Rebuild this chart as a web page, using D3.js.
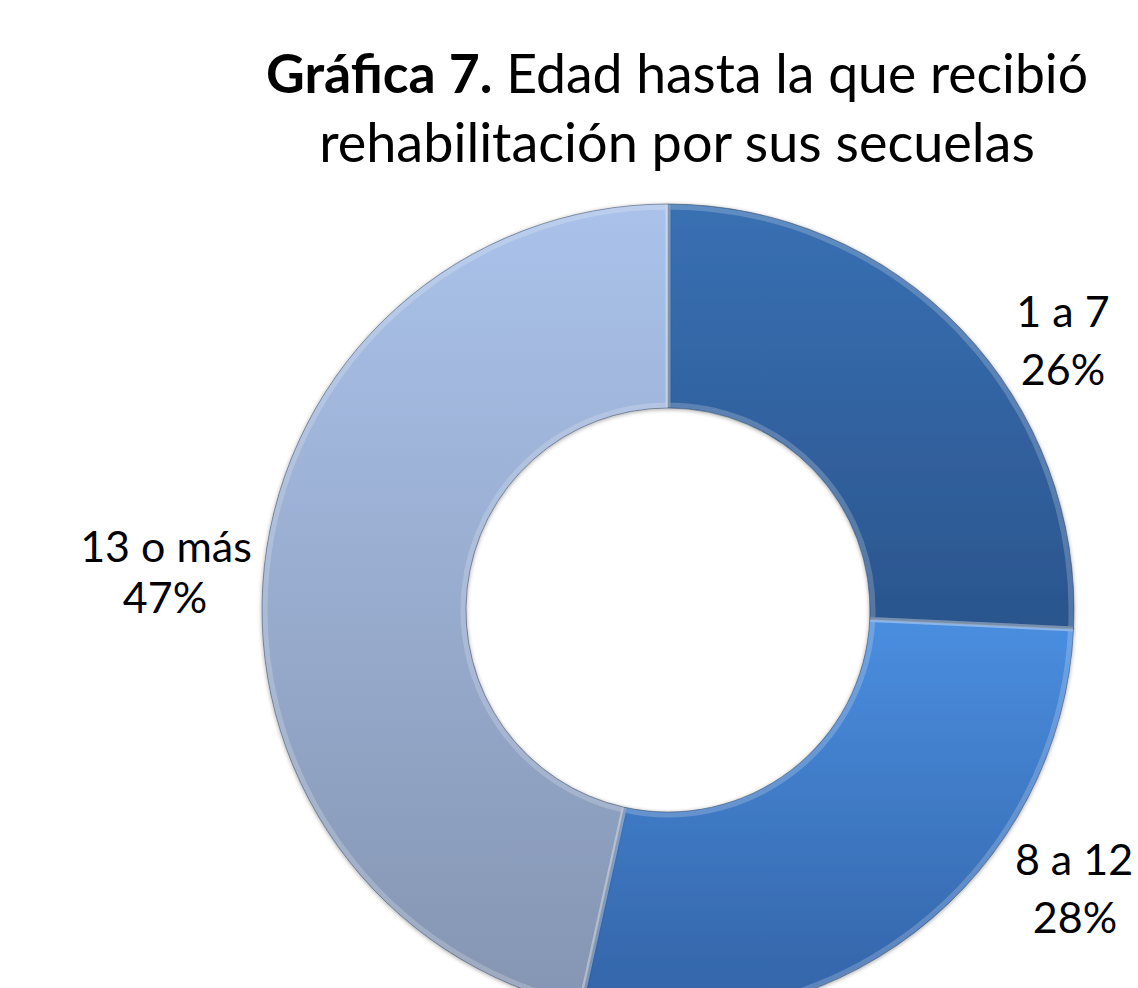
<!DOCTYPE html>
<html><head><meta charset="utf-8">
<script src="https://cdn.jsdelivr.net/npm/d3@7"></script>
<style>
html,body{margin:0;padding:0;background:#fff;}
svg{display:block;}
text{font-family:Lato,"Open Sans",sans-serif;fill:#000;}
</style></head>
<body><svg id="c" width="1138" height="988"></svg>
<script>
const categories = ["1 a 7", "8 a 12", "13 o más"];
const values = [26, 28, 47];
const percentLabels = ["26%", "28%", "47%"];
const titleBold = "Gráfica 7.";
const titleRest = " Edad hasta la que recibió";
const titleLine2 = "rehabilitación por sus secuelas";

const W = 1138, H = 988;
const cx = 668, cy = 610, R = 406, r = 202;
const svg = d3.select("#c");
const defs = svg.append("defs");

const grads = [
  ["#3870b3", "#2b558d"],
  ["#4a8ee0", "#3363a6"],
  ["#aac2ea", "#8595b2"]
];
grads.forEach((g, i) => {
  const lg = defs.append("linearGradient").attr("id", "g" + i)
    .attr("x1", 0).attr("y1", 0).attr("x2", 0).attr("y2", 1);
  lg.append("stop").attr("offset", 0).attr("stop-color", g[0]);
  lg.append("stop").attr("offset", 1).attr("stop-color", g[1]);
});
const f = defs.append("filter").attr("id", "sh").attr("x", -0.1).attr("y", -0.1).attr("width", 1.2).attr("height", 1.2);
f.append("feDropShadow").attr("dx", 0).attr("dy", 1).attr("stdDeviation", 2).attr("flood-color", "#000").attr("flood-opacity", 0.35);

const pie = d3.pie().sort(null).value(d => d);
const arcs = pie(values);
const arc = d3.arc().innerRadius(r).outerRadius(R);
const arcIn = d3.arc().innerRadius(r + 3).outerRadius(R - 3);

const g = svg.append("g").attr("transform", `translate(${cx},${cy})`);
g.selectAll("path.s").data(arcs).enter().append("path").attr("class", "s")
  .attr("d", arc).attr("fill", (d, i) => `url(#g${i})`)
  .attr("stroke", "#4a5a70").attr("stroke-width", 1).attr("stroke-opacity", 0.6)
  .attr("filter", "url(#sh)");
g.selectAll("path.b").data(arcs).enter().append("path").attr("class", "b")
  .attr("d", arcIn).attr("fill", "none")
  .attr("stroke", "#ffffff").attr("stroke-opacity", 0.2).attr("stroke-width", 5);

// title
const t = svg.append("text").attr("x", 677).attr("y", 93).attr("text-anchor", "middle").style("font-size", "53.5px");
t.append("tspan").attr("font-weight", "bold").text(titleBold);
t.append("tspan").text(titleRest);
svg.append("text").attr("x", 677).attr("y", 162).attr("text-anchor", "middle").style("font-size", "54px").text(titleLine2);

// labels
const labelPos = [[1063, 327, 1063, 385], [1074, 875, 1075, 933], [166, 562, 165, 613]];
arcs.forEach((d, i) => {
  const p = labelPos[i];
  svg.append("text").attr("x", p[0]).attr("y", p[1]).attr("text-anchor", "middle").style("font-size", "43px").text(categories[i]);
  svg.append("text").attr("x", p[2]).attr("y", p[3]).attr("text-anchor", "middle").style("font-size", "43px").text(percentLabels[i]);
});
</script></body></html>
